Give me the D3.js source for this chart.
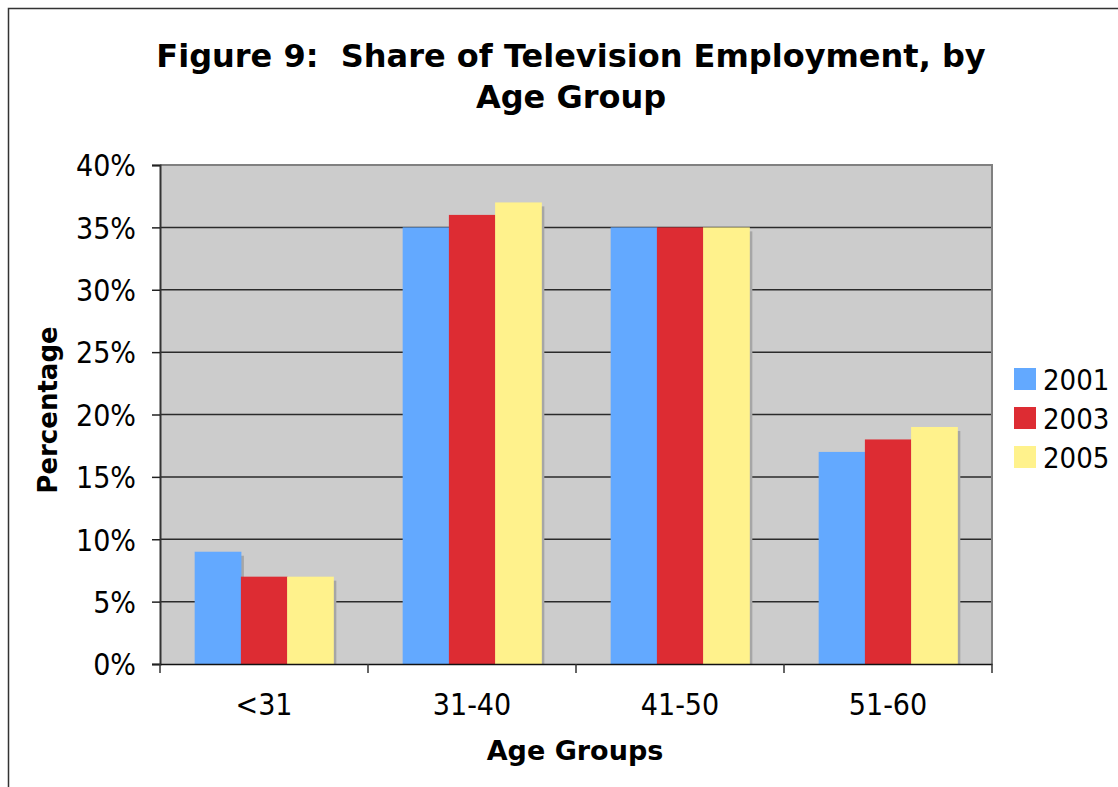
<!DOCTYPE html>
<html>
<head>
<meta charset="utf-8">
<script src="https://cdn.jsdelivr.net/npm/d3@7"></script>
<style>
  html, body { margin: 0; padding: 0; background: #fff; }
  svg { display: block; }
  text { font-family: "DejaVu Sans Condensed", "DejaVu Sans", sans-serif; font-stretch: condensed; fill: #000; white-space: pre; }
  text.bold { font-family: "DejaVu Sans", sans-serif; font-stretch: normal; font-weight: bold; }
</style>
</head>
<body>
<div id="chart"></div>
<script>
// data
const ageGroups = ["<31", "31-40", "41-50", "51-60"];
const years = ["2001", "2003", "2005"];
const values2001 = [9, 35, 35, 17];
const values2003 = [7, 36, 35, 18];
const values2005 = [7, 37, 35, 19];
const yTicks = [0, 5, 10, 15, 20, 25, 30, 35, 40];
const colors = ["#63a9ff", "#dd2c33", "#fff28c"];

const seriesValues = [values2001, values2003, values2005];

const width = 1118, height = 787;
const plot = { left: 160, right: 992, top: 165, bottom: 664 };

const svg = d3.select("#chart").append("svg")
    .attr("width", width)
    .attr("height", height);

// outer frame of the chart (runs off the page right and bottom)
svg.append("rect")
    .attr("x", 8.5).attr("y", 8.5)
    .attr("width", 1300).attr("height", 1000)
    .attr("fill", "#fff")
    .attr("stroke", "#333")
    .attr("stroke-width", 1.5);

const x0 = d3.scaleBand()
    .domain(ageGroups)
    .range([plot.left, plot.right]);

const barW = x0.bandwidth() / 4.5;
const x1 = d3.scaleBand()
    .domain(years)
    .range([0.75 * barW, 3.75 * barW]);

const y = d3.scaleLinear()
    .domain([0, 40])
    .range([plot.bottom, plot.top]);

// plot background
svg.append("rect")
    .attr("x", plot.left).attr("y", plot.top)
    .attr("width", plot.right - plot.left)
    .attr("height", plot.bottom - plot.top)
    .attr("fill", "#cccccc");

// gridlines
svg.append("g")
    .selectAll("line")
    .data(yTicks.filter(d => d > 0 && d < 40))
    .enter()
    .append("line")
    .attr("x1", plot.left).attr("x2", plot.right)
    .attr("y1", d => y(d)).attr("y2", d => y(d))
    .attr("stroke", "#2a2a2a")
    .attr("stroke-width", 1.5);

// top and right border of plot area
svg.append("path")
    .attr("d", `M${plot.left},${plot.top}H${plot.right}V${plot.bottom}`)
    .attr("fill", "none")
    .attr("stroke", "#808080")
    .attr("stroke-width", 2);

// bars, with their drop shadows first
const rows = [];
ageGroups.forEach((g, i) => {
    years.forEach((yr, j) => {
        rows.push({ group: g, year: yr, value: seriesValues[j][i], color: colors[j] });
    });
});

const bars = svg.append("g");
bars.selectAll(".shadow")
    .data(rows)
    .enter()
    .append("rect")
    .attr("class", "shadow")
    .attr("x", d => x0(d.group) + x1(d.year) + 3)
    .attr("y", d => y(d.value) + 4)
    .attr("width", x1.bandwidth())
    .attr("height", d => Math.max(0, plot.bottom - y(d.value) - 4))
    .attr("fill", "#a6a6a6");

bars.selectAll(".bar")
    .data(rows)
    .enter()
    .append("rect")
    .attr("class", "bar")
    .attr("x", d => x0(d.group) + x1(d.year))
    .attr("y", d => y(d.value))
    .attr("width", x1.bandwidth() + 0.5)
    .attr("height", d => plot.bottom - y(d.value))
    .attr("fill", d => d.color);

// y axis
const yAxis = svg.append("g")
    .attr("transform", `translate(${plot.left},0)`)
    .call(d3.axisLeft(y).tickValues(yTicks).tickSize(8).tickPadding(16).tickFormat(d => d + "%"));
yAxis.select(".domain").attr("stroke", "#333").attr("stroke-width", 2);
yAxis.selectAll(".tick line").attr("stroke", "#222").attr("stroke-width", 1.5);
yAxis.selectAll(".tick text")
    .attr("font-size", 30)
    .attr("fill", "#000")
    .attr("dy", "0.36em");

// x axis
const xAxis = svg.append("g")
    .attr("transform", `translate(0,${plot.bottom})`)
    .call(d3.axisBottom(x0).tickSize(0).tickPadding(30));
xAxis.select(".domain").attr("stroke", "#111").attr("stroke-width", 1.5);
xAxis.selectAll(".tick text")
    .attr("font-size", 30)
    .attr("fill", "#000");

// tick marks between the categories
const bounds = ageGroups.map(g => x0(g)).concat([plot.right]);
svg.append("g")
    .selectAll("line")
    .data(bounds)
    .enter()
    .append("line")
    .attr("x1", d => d).attr("x2", d => d)
    .attr("y1", plot.bottom).attr("y2", plot.bottom + 9)
    .attr("stroke", "#333")
    .attr("stroke-width", 1.5);

// titles
const title = svg.append("text")
    .attr("class", "bold")
    .attr("text-anchor", "middle")
    .attr("font-size", 32);
title.append("tspan").attr("x", 571).attr("y", 67).text("Figure 9:  Share of Television Employment, by");
title.append("tspan").attr("x", 571).attr("y", 108).text("Age Group");

svg.append("text")
    .attr("class", "bold")
    .attr("x", 575).attr("y", 760)
    .attr("text-anchor", "middle")
    .attr("font-size", 27)
    .text("Age Groups");

svg.append("text")
    .attr("class", "bold")
    .attr("transform", "translate(57,410) rotate(-90)")
    .attr("text-anchor", "middle")
    .attr("font-size", 26)
    .text("Percentage");

// legend
const legend = svg.append("g")
    .selectAll("g")
    .data(years)
    .enter()
    .append("g")
    .attr("transform", (d, i) => `translate(1014,${368 + i * 39})`);
legend.append("rect")
    .attr("width", 22).attr("height", 22)
    .attr("fill", (d, i) => colors[i]);
legend.append("text")
    .attr("x", 29).attr("y", 22)
    .attr("font-size", 29)
    .text(d => d);
</script>
</body>
</html>
